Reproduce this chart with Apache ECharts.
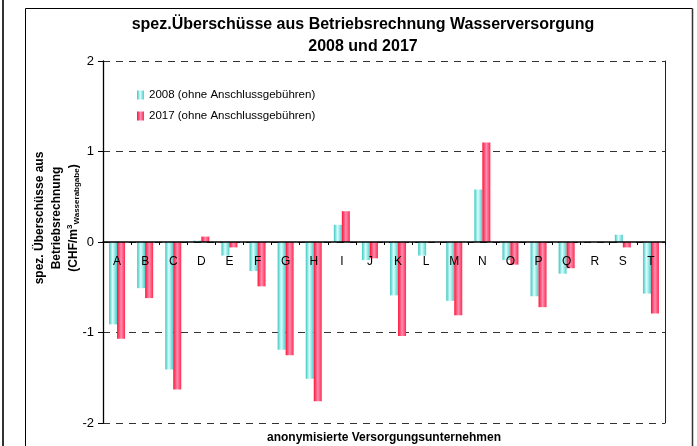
<!DOCTYPE html>
<html>
<head>
<meta charset="utf-8">
<script src="https://cdn.jsdelivr.net/npm/echarts@6/dist/echarts.min.js"></script>
<style>
  html, body { margin: 0; padding: 0; background: #fff; }
  #chart { width: 697px; height: 446px; }
</style>
</head>
<body>
<div id="chart"></div>
<script>
// data
const categories = ['A','B','C','D','E','F','G','H','I','J','K','L','M','N','O','P','Q','R','S','T'];
const values2008 = [-0.91,-0.51,-1.41,0.015,-0.15,-0.32,-1.19,-1.51,0.19,-0.20,-0.59,-0.15,-0.65,0.58,-0.20,-0.60,-0.35,null,0.08,-0.57];
const values2017 = [-1.07,-0.62,-1.63,0.06,-0.06,-0.49,-1.25,-1.76,0.34,-0.18,-1.04,null,-0.81,1.10,-0.25,-0.72,-0.29,null,-0.06,-0.79];
const yTicks = [-2, -1, 0, 1, 2];

const chartDom = document.getElementById('chart');
const myChart = echarts.init(chartDom, null, { renderer: 'canvas' });

const font = '"Liberation Sans", Arial, sans-serif';
const gridTop = 61, gridBottom = 23, yMin = -2, yMax = 2;
// x axis sits on the zero line: shift it up from the bottom edge of the grid
const plotH = 446 - gridTop - gridBottom;
const zeroShift = plotH * (0 - yMin) / (yMax - yMin);

const cyanFill = new echarts.graphic.LinearGradient(0, 0, 1, 0, [
    { offset: 0, color: '#3cc6bf' },
    { offset: 0.45, color: '#d8ffff' },
    { offset: 1, color: '#4ccfc8' }
]);
const redFill = new echarts.graphic.LinearGradient(0, 0, 1, 0, [
    { offset: 0, color: '#ff1035' },
    { offset: 0.5, color: '#ff8fb2' },
    { offset: 1, color: '#ff2a50' }
]);

const option = {
    backgroundColor: '#fff',
    textStyle: { fontFamily: font },
    animation: false,
    title: {
        text: 'spez.Überschüsse aus Betriebsrechnung Wasserversorgung\n2008 und 2017',
        left: 358,
        top: 9,
        textAlign: 'center',
        textStyle: { fontSize: 16, fontWeight: 'bold', color: '#000', lineHeight: 22, fontFamily: font }
    },
    legend: {
        orient: 'vertical',
        left: 132,
        top: 84,
        itemWidth: 7,
        itemHeight: 9,
        itemGap: 9,
        icon: 'rect',
        textStyle: { fontSize: 11.5, color: '#000', fontFamily: font },
        data: ['2008 (ohne Anschlussgebühren)', '2017 (ohne Anschlussgebühren)']
    },
    grid: { left: 103, right: 32, top: gridTop, bottom: gridBottom },
    xAxis: {
        type: 'category',
        data: categories,
        offset: -zeroShift,
        z: 10,
        axisLine: { onZero: false, lineStyle: { color: '#000', width: 1.5 } },
        axisTick: { show: true, inside: false, length: 3, lineStyle: { color: '#000' } },
        axisLabel: { fontSize: 12, color: '#000', margin: 14, fontFamily: font },
        splitLine: { show: false }
    },
    yAxis: [
        {
            type: 'value',
            min: yMin,
            max: yMax,
            interval: 1,
            axisLine: { show: true, onZero: false, lineStyle: { color: '#000', width: 1.3 } },
            axisTick: { show: true, length: 5, lineStyle: { color: '#000' } },
            axisLabel: {
                fontSize: 13, color: '#000', margin: 9, fontFamily: font,
                formatter: v => yTicks.includes(v) ? String(v) : ''
            },
            splitLine: { show: true, lineStyle: { color: '#333', type: [7, 6], width: 1.2 } }
        },
        {
            type: 'value',
            position: 'right',
            min: yMin,
            max: yMax,
            interval: 1,
            axisLine: { show: true, onZero: false, lineStyle: { color: '#222', width: 1 } },
            axisTick: { show: false },
            axisLabel: { show: false },
            splitLine: { show: false }
        }
    ],
    series: [
        {
            name: '2008 (ohne Anschlussgebühren)',
            type: 'bar',
            data: values2008,
            barWidth: 8,
            barGap: '0%',
            itemStyle: { color: cyanFill }
        },
        {
            name: '2017 (ohne Anschlussgebühren)',
            type: 'bar',
            data: values2017,
            barWidth: 8,
            itemStyle: { color: redFill }
        }
    ],
    graphic: [
        // outer frame lines
        { type: 'rect', shape: { x: 2, y: -5, width: 2, height: 460 }, style: { fill: '#333' }, silent: true },
        { type: 'line', shape: { x1: 25.5, y1: 8.5, x2: 25.5, y2: 460 }, style: { stroke: '#000', lineWidth: 1 }, silent: true },
        { type: 'line', shape: { x1: 25.5, y1: 8.5, x2: 692.5, y2: 8.5 }, style: { stroke: '#000', lineWidth: 1 }, silent: true },
        { type: 'line', shape: { x1: 692.5, y1: 8.5, x2: 692.5, y2: 460 }, style: { stroke: '#333', lineWidth: 1.5 }, silent: true },
        // y axis title
        {
            type: 'text',
            x: 57,
            y: 218,
            rotation: Math.PI / 2,
            style: {
                text: '{b|spez. Überschüsse aus}\n{b|Betriebsrechnung}\n{b|(CHF/m}{sup|3}{sub|Wasserabgabe}{b|)}',
                align: 'center',
                verticalAlign: 'middle',
                fontFamily: font,
                rich: {
                    b: { fontSize: 12, fontWeight: 'bold', fill: '#000', lineHeight: 17, fontFamily: font },
                    sup: { fontSize: 8, fontWeight: 'bold', fill: '#000', verticalAlign: 'top', padding: [0, 0, 6, 0], fontFamily: font },
                    sub: { fontSize: 8, fontWeight: 'bold', fill: '#000', padding: [6, 0, 0, 0], fontFamily: font }
                }
            }
        },
        // x axis title
        {
            type: 'text',
            x: 384,
            y: 438,
            style: {
                text: 'anonymisierte Versorgungsunternehmen',
                align: 'center',
                verticalAlign: 'middle',
                fontSize: 12,
                fontWeight: 'bold',
                fill: '#000',
                fontFamily: font
            }
        }
    ]
};

myChart.setOption(option);
</script>
</body>
</html>
